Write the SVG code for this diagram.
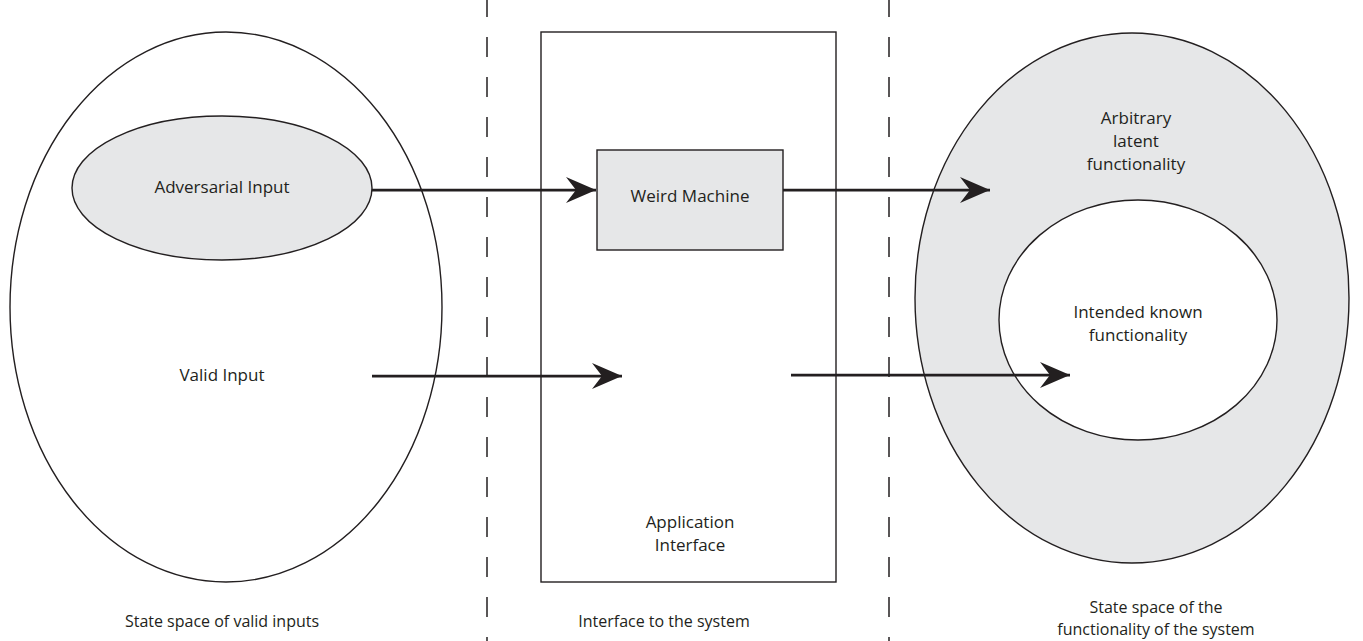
<svg xmlns="http://www.w3.org/2000/svg" width="1363" height="641" viewBox="0 0 1363 641">
  <style>
    .shape { stroke: #231f20; stroke-width: 1.4; }
    .plain { fill: #ffffff; }
    .shade { fill: #e6e7e8; }
    .divider { stroke: #231f20; stroke-width: 1.5; stroke-dasharray: 20 20; }
    .flow { stroke: #231f20; stroke-width: 2.75; fill: none; marker-end: url(#head); }
    text { font-family: "Open Sans", "Liberation Sans", sans-serif; font-size: 17px; fill: #231f20; text-anchor: middle; }
    .caption { font-size: 16px; }
  </style>
  <defs>
    <marker id="head" markerUnits="userSpaceOnUse" markerWidth="32" markerHeight="26" viewBox="0 0 32 26" refX="30" refY="13" orient="auto">
      <path d="M0,0 L30,13 L0,26 L10,13 Z" fill="#231f20"/>
    </marker>
  </defs>

  <rect width="1363" height="641" fill="#ffffff"/>

  <!-- separators between the three zones -->
  <g id="dividers">
    <line class="divider" x1="487" y1="-3" x2="487" y2="641"/>
    <line class="divider" x1="889" y1="-3" x2="889" y2="641"/>
  </g>

  <!-- input state space -->
  <g id="valid-inputs">
    <ellipse class="shape plain" cx="226" cy="307" rx="216" ry="275"/>
    <text x="222" y="381">Valid Input</text>
  </g>
  <g id="adversarial-input">
    <ellipse class="shape shade" cx="222" cy="188" rx="150" ry="72"/>
    <text x="222" y="193">Adversarial Input</text>
  </g>

  <!-- application interface -->
  <g id="application-interface">
    <rect class="shape plain" x="541" y="32" width="295" height="550"/>
    <text x="690" y="528">Application</text>
    <text x="690" y="551">Interface</text>
  </g>
  <g id="weird-machine">
    <rect class="shape shade" x="597" y="150" width="186" height="100"/>
    <text x="690" y="202">Weird Machine</text>
  </g>

  <!-- functionality state space -->
  <g id="latent-functionality">
    <ellipse class="shape shade" cx="1132" cy="298" rx="217" ry="265"/>
    <text x="1136" y="124">Arbitrary</text>
    <text x="1136" y="147">latent</text>
    <text x="1136" y="170">functionality</text>
  </g>
  <g id="intended-functionality">
    <ellipse class="shape plain" cx="1138" cy="320" rx="139" ry="120"/>
    <text x="1138" y="318">Intended known</text>
    <text x="1138" y="341">functionality</text>
  </g>

  <!-- zone captions -->
  <g id="captions">
    <text class="caption" x="222" y="627">State space of valid inputs</text>
    <text class="caption" x="664" y="627">Interface to the system</text>
    <text class="caption" x="1156" y="613">State space of the</text>
    <text class="caption" x="1156" y="635">functionality of the system</text>
  </g>

  <!-- flows -->
  <g id="connectors">
    <line class="flow" x1="372" y1="190" x2="596" y2="190"/>
    <line class="flow" x1="783" y1="190" x2="990" y2="190"/>
    <line class="flow" x1="372" y1="376" x2="622" y2="376"/>
    <line class="flow" x1="791" y1="375" x2="1070" y2="375"/>
  </g>
</svg>
